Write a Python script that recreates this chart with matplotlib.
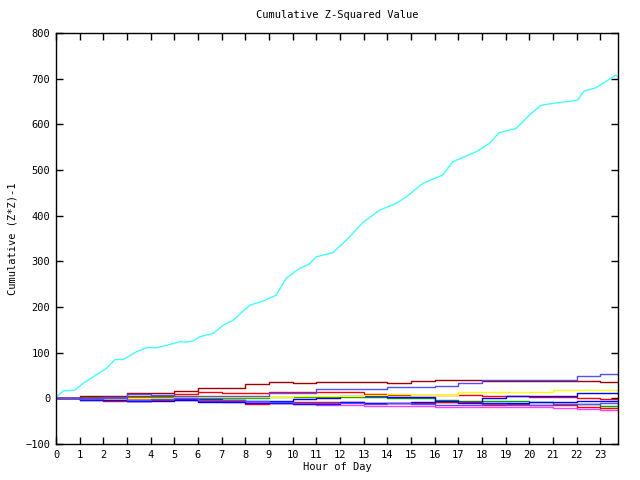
import numpy as np
import matplotlib
matplotlib.use("Agg")
import matplotlib.pyplot as plt

# cyan series (hour, cumulative value)
cyan_hours = [0.0, 0.03, 0.31, 0.8, 1.15, 1.57, 2.14, 2.49, 2.84, 3.4, 3.83, 4.25,
              4.81, 5.23, 5.51, 5.8, 6.08, 6.64, 7.06, 7.48, 8.19, 8.75, 9.31,
              9.73, 10.3, 10.7, 11.0, 11.7, 12.3, 12.97, 13.67, 14.37, 14.8,
              15.5, 16.34, 16.76, 17.75, 18.31, 18.73, 19.44, 20.0, 20.49,
              21.13, 22.04, 22.32, 22.81, 23.66, 23.75]
cyan_vals = [0, 3.5, 16.7, 18, 33, 47, 66, 85, 85, 102, 111, 111,
             118, 124, 123, 126, 135, 142, 160, 171, 204, 213, 226,
             263, 285, 294, 310, 319, 348, 385, 412, 427, 441,
             471, 489, 518, 540, 558, 582, 591, 620, 642,
             647, 653, 673, 680, 708, 706]

# the small series near zero, one value per hour (last point 23.75)
hours = list(range(24)) + [23.75]
darkred = [0, 5, 5, 11, 12, 16, 22, 22, 31, 36, 34, 35, 35, 35, 33, 38, 40, 40, 38, 37, 38, 38, 38, 36, 35]
lightblue = [0, 0, 3, 9, 7, 6, 6, 6, 5, 11, 11, 20, 20, 20, 25, 25, 28, 33, 40, 40, 40, 40, 48, 53, 52]
red1 = [0, -2, 2, 6, 6, 10, 14, 12, 12, 13, 13, 13, 13, 9, 8, 8, 7, 7, 6, 6, 3, 2, 0, -1, -2]
yellow = [0, -3, -2, 0, 0, 2, 2, 3, 3, 4, 5, 6, 6, 8, 9, 7, 7, 14, 14, 13, 13, 19, 19, 18, 18]
blue1 = [0, -3, -4, -5, -3, -2, -2, -4, -6, -5, -2, 0, 5, 6, 4, 2, -8, -9, 1, 5, 6, 6, 11, 11, 10]
green = [0, 2, 4, 2, 2, 0, 0, 0, 1, 3, 4, 4, 3, 3, 1, 0, -3, -5, -5, -6, -9, -13, -13, -16, -17]
magenta = [0, 0, -4, -2, -2, 0, -4, -7, -9, -10, -12, -14, -15, -16, -16, -17, -18, -19, -19, -20, -20, -22, -24, -25, -28]
red2 = [0, -2, -6, -5, -3, -4, -6, -6, -12, -10, -7, -8, -8, -10, -11, -10, -9, -9, -14, -13, -15, -14, -20, -22, -22]
blue2 = [0, -3, -3, -6, -6, -4, -9, -9, -10, -11, -13, -13, -9, -11, -11, -7, -6, -10, -10, -10, -9, -8, -5, -5, -5]
lightblue2 = [0, -2, 0, -3, -2, 0, -3, -4, -6, -8, -10, -11, -10, -12, -10, -12, -14, -15, -13, -14, -14, -12, -12, -11, -11]

small_series = [
    (red1, "#ff0000"),
    (green, "#00a000"),
    (blue1, "#0000ff"),
    (magenta, "#ff40ff"),
    (darkred, "#a00000"),
    (yellow, "#ffff00"),
    (lightblue, "#5050ff"),
    (red2, "#ff0000"),
    (blue2, "#0000ff"),
    (lightblue2, "#5050ff"),
]

plt.rcParams["font.family"] = "DejaVu Sans Mono"
plt.rcParams["font.size"] = 7.5

fig = plt.figure(figsize=(6.4, 4.8), dpi=100)
ax = fig.add_axes([0.0875, 0.075, 0.878, 0.856])

for vals, col in small_series:
    ax.plot(hours, vals, color=col, linewidth=1.0, drawstyle="steps-post")
ax.plot(cyan_hours, cyan_vals, color="#40ffff", linewidth=1.0)

ax.set_xlim(0, 23.75)
ax.set_ylim(-100, 800)
ax.set_xticks(range(24))
ax.set_yticks(range(-100, 801, 100))
ax.tick_params(direction="in", length=5, width=1, top=True, right=True,
               labelsize=7.5, pad=4)
for sp in ax.spines.values():
    sp.set_linewidth(1.0)

ax.set_title("Cumulative Z-Squared Value", fontsize=7.5, pad=11)
ax.set_xlabel("Hour of Day", fontsize=7.5, labelpad=2)
ax.set_ylabel("Cumulative (Z*Z)-1", fontsize=7.5, labelpad=6)

fig.savefig("out.png", dpi=100)
